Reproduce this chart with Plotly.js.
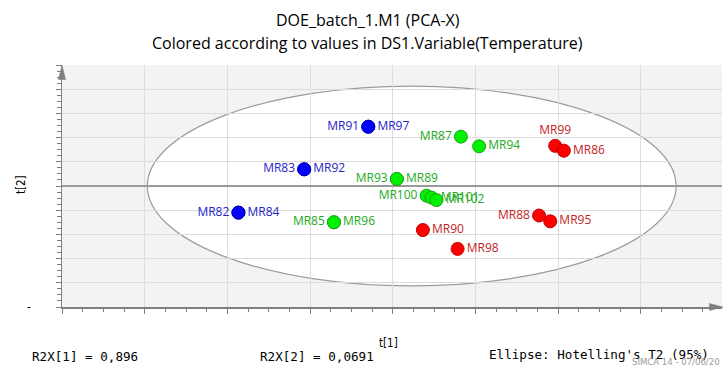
<!DOCTYPE html>
<html>
<head>
<meta charset="utf-8">
<script src="https://cdn.plot.ly/plotly-3.0.1.min.js"></script>
<style>
  html, body { margin: 0; padding: 0; background: #ffffff; }
  #chart { width: 725px; height: 369px; }
</style>
</head>
<body>
<div id="chart"></div>
<script>
// PCA-X score plot, observations coloured by temperature level
const obsNames = ['MR82', 'MR84', 'MR83', 'MR92', 'MR91', 'MR97',
                  'MR85', 'MR96', 'MR93', 'MR89', 'MR87', 'MR94', 'MR100', 'MR101', 'MR102',
                  'MR90', 'MR98', 'MR88', 'MR95', 'MR99', 'MR86'];
const t1 = [-4.19, -4.19, -2.60, -2.60, -1.05, -1.05,
            -1.88, -1.88, -0.36, -0.36, 1.19, 1.63, 0.36, 0.48, 0.60,
            0.27, 1.11, 3.08, 3.35, 3.47, 3.68];
const t2 = [-1.10, -1.10, 0.69, 0.69, 2.45, 2.45,
            -1.50, -1.50, 0.29, 0.29, 2.04, 1.64, -0.40, -0.48, -0.58,
            -1.82, -2.60, -1.22, -1.46, 1.66, 1.46];
const tempLevel = ['low', 'low', 'low', 'low', 'low', 'low',
                   'mid', 'mid', 'mid', 'mid', 'mid', 'mid', 'mid', 'mid', 'mid',
                   'high', 'high', 'high', 'high', 'high', 'high'];

// Hotelling's T2 (95%) ellipse semi-axes
const t2Limit = { a: 6.394, b: 4.13 };

// Summary texts
const r2x1 = '0,896';
const r2x2 = '0,0691';

// Styling
const levelStyle = {
  low:  { fill: '#0000ff', edge: '#0000a8', text: '#2424c8' },
  mid:  { fill: '#00f000', edge: '#1ea01e', text: '#22aa22' },
  high: { fill: '#ff0000', edge: '#c00000', text: '#c42424' }
};
const labelSide = {
  MR82: 'middle left', MR84: 'middle right', MR83: 'middle left', MR92: 'middle right',
  MR91: 'middle left', MR97: 'middle right', MR85: 'middle left', MR96: 'middle right',
  MR93: 'middle left', MR89: 'middle right', MR87: 'middle left', MR94: 'middle right',
  MR100: 'middle left', MR101: 'middle right', MR102: 'middle right',
  MR90: 'middle right', MR98: 'middle right', MR88: 'middle left', MR95: 'middle right',
  MR99: 'top center', MR86: 'middle right'
};

const traces = ['low', 'mid', 'high'].map(level => {
  const idx = obsNames.map((n, i) => i).filter(i => tempLevel[i] === level);
  const st = levelStyle[level];
  return {
    type: 'scatter',
    mode: 'markers+text',
    x: idx.map(i => t1[i]),
    y: idx.map(i => t2[i]),
    text: idx.map(i => obsNames[i]),
    textposition: idx.map(i => labelSide[obsNames[i]]),
    textfont: { family: 'Open Sans, Noto Sans, sans-serif', size: 12, color: st.text },
    marker: { size: 13, color: st.fill, line: { color: st.edge, width: 1 } },
    hoverinfo: 'text',
    showlegend: false,
    cliponaxis: false
  };
});

// Axis geometry: grid every 2 units of t[1], every unit of t[2]
const xLo = -8.457, xHi = 7.504;

const axisGrey = '#7f7f7f';
const monoFont = { family: 'DejaVu Sans Mono, monospace', size: 12.6, color: '#000000' };
const narrowFont = { family: 'DejaVu Sans Condensed, DejaVu Sans, sans-serif', size: 11.5, color: '#000000' };

const layout = {
  width: 725,
  height: 369,
  margin: { l: 62, r: 3, t: 65, b: 62 },
  paper_bgcolor: '#ffffff',
  plot_bgcolor: '#f3f3f3',
  showlegend: false,
  xaxis: {
    range: [xLo, xHi],
    tick0: xLo, dtick: 2,
    showgrid: true, gridcolor: '#dcdcdc', gridwidth: 1,
    zeroline: false,
    showline: true, linecolor: axisGrey, linewidth: 1.5,
    ticks: 'outside', ticklen: 5, tickcolor: axisGrey, tickwidth: 1,
    minor: { tick0: xLo, dtick: 0.5, ticks: 'outside', ticklen: 3, tickcolor: axisGrey, showgrid: false },
    showticklabels: false,
    fixedrange: true
  },
  yaxis: {
    range: [-5, 5],
    tick0: 0, dtick: 1,
    showgrid: true, gridcolor: '#dcdcdc', gridwidth: 1,
    zeroline: true, zerolinecolor: '#9a9a9a', zerolinewidth: 2,
    showline: true, linecolor: axisGrey, linewidth: 1.5,
    ticks: 'outside', ticklen: 5, tickcolor: axisGrey, tickwidth: 1,
    minor: { tick0: 0, dtick: 0.25, ticks: 'outside', ticklen: 4, tickcolor: axisGrey, showgrid: false },
    showticklabels: false,
    fixedrange: true
  },
  shapes: [
    {
      type: 'circle', xref: 'x', yref: 'y',
      x0: -t2Limit.a, x1: t2Limit.a, y0: -t2Limit.b, y1: t2Limit.b,
      fillcolor: '#ffffff',
      line: { color: '#9c9c9c', width: 1.2 },
      layer: 'below'
    },
    // arrow heads at the axis ends
    {
      type: 'path', xref: 'paper', yref: 'paper',
      path: 'M -0.0055 0.94 L 0 0.998 L 0.0055 0.94 Z',
      fillcolor: axisGrey, line: { color: axisGrey, width: 0.5 }
    },
    {
      type: 'path', xref: 'paper', yref: 'paper',
      path: 'M 0.981 -0.0145 L 1.0015 0 L 0.981 0.0145 Z',
      fillcolor: axisGrey, line: { color: axisGrey, width: 0.5 }
    }
  ],
  annotations: [
    { text: 'DOE_batch_1.M1 (PCA-X)', xref: 'paper', yref: 'paper', x: 0.4636, y: 1.186,
      xanchor: 'center', yanchor: 'middle', showarrow: false,
      font: { family: 'Open Sans, Noto Sans, sans-serif', size: 16, color: '#000000' } },
    { text: 'Colored according to values in DS1.Variable(Temperature)', xref: 'paper', yref: 'paper',
      x: 0.4636, y: 1.0897, xanchor: 'center', yanchor: 'middle', showarrow: false,
      font: { family: 'Open Sans, Noto Sans, sans-serif', size: 16, color: '#000000' } },
    { text: 't[1]', xref: 'paper', yref: 'paper', x: 0.495, y: -0.149,
      xanchor: 'center', yanchor: 'middle', showarrow: false, font: narrowFont },
    { text: 't[2]', xref: 'paper', yref: 'paper', x: -0.062, y: 0.504, textangle: -90,
      xanchor: 'center', yanchor: 'middle', showarrow: false, font: narrowFont },
    { text: '-', xref: 'paper', yref: 'paper', x: -0.05, y: 0.0,
      xanchor: 'center', yanchor: 'middle', showarrow: false, font: narrowFont },
    { text: 'R2X[1] = ' + r2x1, xref: 'paper', yref: 'paper', x: -0.0485, y: -0.2025,
      xanchor: 'left', yanchor: 'middle', showarrow: false, font: monoFont },
    { text: 'R2X[2] = ' + r2x2, xref: 'paper', yref: 'paper', x: 0.2974, y: -0.2025,
      xanchor: 'left', yanchor: 'middle', showarrow: false, font: monoFont },
    { text: "Ellipse: Hotelling's T2 (95%)", xref: 'paper', yref: 'paper', x: 0.6435, y: -0.198,
      xanchor: 'left', yanchor: 'middle', showarrow: false, font: monoFont },
    { text: 'SIMCA 14 - 07/06/20', xref: 'paper', yref: 'paper', x: 0.8606, y: -0.225,
      xanchor: 'left', yanchor: 'middle', showarrow: false,
      font: { family: 'DejaVu Sans Condensed, DejaVu Sans, sans-serif', size: 9.5, color: '#9a9a9a' } }
  ]
};

Plotly.newPlot('chart', traces, layout, { displayModeBar: false, staticPlot: true });
</script>
</body>
</html>
